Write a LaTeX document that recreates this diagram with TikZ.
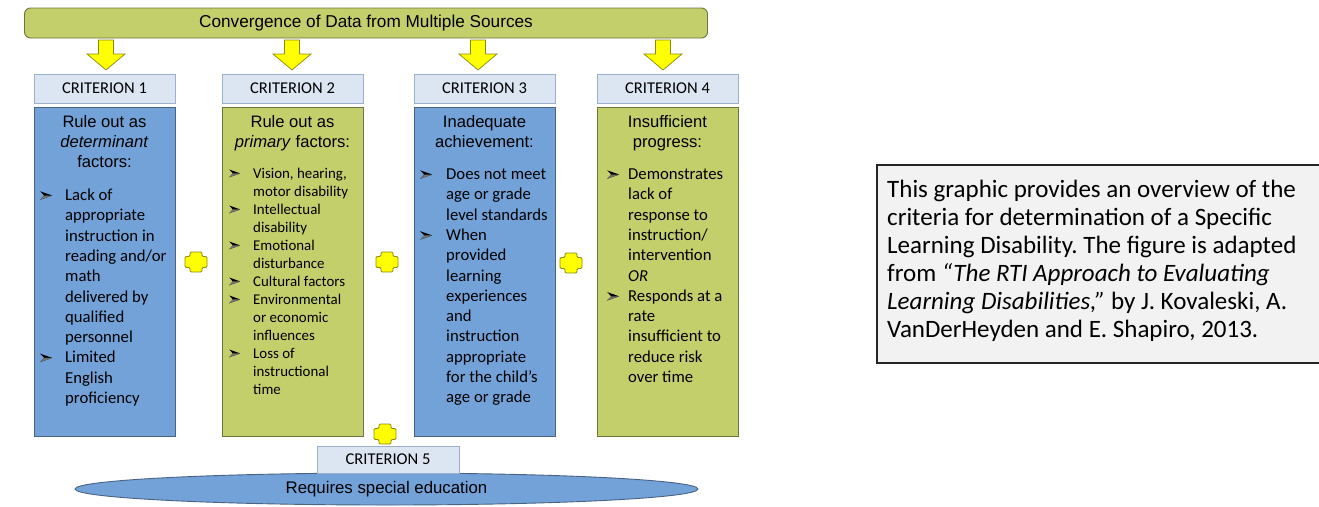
\documentclass[tikz,border=0pt]{standalone}
\usepackage{fontspec}
\setmainfont{Carlito}
\newfontfamily\arialf{Liberation Sans}
\usetikzlibrary{shapes.geometric}
\frenchspacing
\definecolor{grn}{HTML}{C3CF6B}
\definecolor{blu}{HTML}{72A2D8}
\definecolor{lbl}{HTML}{DCE6F2}
\definecolor{lblb}{HTML}{9AB0CC}
\definecolor{bbord}{HTML}{4A6284}
\definecolor{gbord}{HTML}{6E7440}
\definecolor{yel}{HTML}{FFFF00}
\definecolor{yelb}{HTML}{8A8A10}
\definecolor{notefill}{HTML}{F2F2F2}
\newcommand\bl{\tikz[x=1pt,y=1pt,baseline=0pt]{\fill[black] (0,0.8)--(12,5)--(0,9.2)--(4,5)--cycle; \fill[black!55] (0,0.8)--(12,5)--(4,5)--cycle;}}
\newcommand\blsm{\tikz[x=1pt,y=1pt,baseline=0pt]{\fill[black] (0,0.7)--(11,4.6)--(0,8.5)--(3.6,4.6)--cycle; \fill[black!55] (0,0.7)--(11,4.6)--(3.6,4.6)--cycle;}}
\tikzset{
  labelbox/.style={draw=lblb, fill=lbl, line width=0.8pt, minimum width=141pt, minimum height=29pt, inner sep=0pt, font=\fontsize{16.5}{19}\selectfont},
  bluebox/.style={draw=bbord, fill=blu, line width=0.9pt, minimum width=141pt, minimum height=329pt, inner sep=0pt},
  greenbox/.style={draw=gbord, fill=grn, line width=0.9pt, minimum width=141pt, minimum height=329pt, inner sep=0pt},
  hd/.style={inner sep=0pt, anchor=base, font=\arialf\fontsize{16.6}{20}\selectfont},
  lst/.style={inner sep=0pt, anchor=base west, font=\fontsize{16.7}{20.3}\selectfont},
  lstsm/.style={inner sep=0pt, anchor=base west, font=\fontsize{14.9}{18}\selectfont},
  yarrow/.style={draw=yelb, fill=yel, line width=0.7pt, line join=miter},
  yplus/.style={draw=yelb, fill=yel, line width=0.8pt, rounded corners=1.2pt},
}
\begin{document}
\begin{tikzpicture}[x=1pt,y=-1pt]
\useasboundingbox (0,0) rectangle (1319,506);
% banner
\node[draw=gbord, fill=grn, line width=0.9pt, rounded corners=6pt, minimum width=683pt, minimum height=30pt, inner sep=0pt,
  font=\arialf\fontsize{17.2}{20}\selectfont] (top) at (366,23) {Convergence of Data from Multiple Sources};
% arrows
\foreach \n/\x in {a1/106, a2/292, a3/478, a4/663}{
  \coordinate (\n) at (\x,40);
  \draw[yarrow, shift={(\n)}] (-7.5,0) -- (7.5,0) -- (7.5,14) -- (19,14) -- (0,30) -- (-19,14) -- (-7.5,14) -- cycle;
}
% criterion labels
\node[labelbox] (l1) at (104.5,88.5) {CRITERION 1};
\node[labelbox] (l2) at (292.5,88.5) {CRITERION 2};
\node[labelbox] (l3) at (484.5,88.5) {CRITERION 3};
\node[labelbox] (l4) at (667.5,88.5) {CRITERION 4};
% content boxes
\node[bluebox] (b1) at (104.5,271.5) {};
\node[greenbox] (b2) at (292.5,271.5) {};
\node[bluebox] (b3) at (484.5,271.5) {};
\node[greenbox] (b4) at (667.5,271.5) {};
% headings
\node[hd] (h1) at (104.5,127.5) {\begin{tabular}[t]{@{}c@{}}Rule out as\\\textit{determinant}\\factors:\end{tabular}};
\node[hd] (h2) at (292.5,127.5) {\begin{tabular}[t]{@{}c@{}}Rule out as\\\textit{primary} factors:\end{tabular}};
\node[hd] (h3) at (484.5,127.5) {\begin{tabular}[t]{@{}c@{}}Inadequate\\achievement:\end{tabular}};
\node[hd] (h4) at (667.5,127.5) {\begin{tabular}[t]{@{}c@{}}Insufficient\\progress:\end{tabular}};
% lists
\node[lst] (t1) at (40,200.5) {\begin{tabular}[t]{@{}p{25pt}@{}l@{}}
\bl & Lack of\\ & appropriate\\ & instruction in\\ & reading and/or\\ & math\\ & delivered by\\ & qualified\\ & personnel\\
\bl & Limited\\ & English\\ & proficiency\end{tabular}};
\node[lstsm] (t2) at (229,178) {\begin{tabular}[t]{@{}p{24pt}@{}l@{}}
\blsm & Vision, hearing,\\ & motor disability\\
\blsm & Intellectual\\ & disability\\
\blsm & Emotional\\ & disturbance\\
\blsm & Cultural factors\\
\blsm & Environmental\\ & or economic\\ & influences\\
\blsm & Loss of\\ & instructional\\ & time\end{tabular}};
\node[lst] (t3) at (420,179.5) {\begin{tabular}[t]{@{}p{26pt}@{}l@{}}
\bl & Does not meet\\ & age or grade\\ & level standards\\
\bl & When\\ & provided\\ & learning\\ & experiences\\ & and\\ & instruction\\ & appropriate\\ & for the child’s\\ & age or grade\end{tabular}};
\node[lst] (t4) at (607,179.5) {\begin{tabular}[t]{@{}p{21pt}@{}l@{}}
\bl & Demonstrates\\ & lack of\\ & response to\\ & instruction/\\ & intervention\\ & \textit{OR}\\
\bl & Responds at a\\ & rate\\ & insufficient to\\ & reduce risk\\ & over time\end{tabular}};
% pluses
\foreach \n/\x/\y in {p1/196/262, p2/387/262, p3/571/263, p4/385/434}{
  \coordinate (\n) at (\x,\y);
  \draw[yplus, shift={(\n)}] (-6,-10) -- (6,-10) -- (6,-5.5) -- (11,-5.5) -- (11,5.5) -- (6,5.5) -- (6,10) -- (-6,10) -- (-6,5.5) -- (-11,5.5) -- (-11,-5.5) -- (-6,-5.5) -- cycle;
}
% criterion 5
\node[ellipse, draw=bbord, fill=blu, line width=0.9pt, minimum width=623pt, minimum height=32pt, inner sep=0pt,
  font=\arialf\fontsize{16.8}{20}\selectfont] (e5) at (386.5,489) {\raisebox{-2pt}{Requires special education}};
\node[labelbox, minimum width=142pt, minimum height=27pt] (l5) at (388,459.5) {CRITERION 5};
% note
\node[draw=black!85, fill=notefill, line width=1.3pt, minimum width=446pt, minimum height=198pt, inner sep=0pt] (note) at (1100,264) {};
\node[inner sep=0pt, anchor=base west, font=\fontsize{25}{28}\selectfont] (notetext) at (887,197) {\begin{tabular}[t]{@{}l@{}}
This graphic provides an overview of the\\
criteria for determination of a Specific\\
Learning Disability. The figure is adapted\\
from \textit{“The RTI Approach to Evaluating}\\
\textit{Learning Disabilities,”} by J. Kovaleski, A.\\
VanDerHeyden and E. Shapiro, 2013.\end{tabular}};
\end{tikzpicture}
\end{document}
